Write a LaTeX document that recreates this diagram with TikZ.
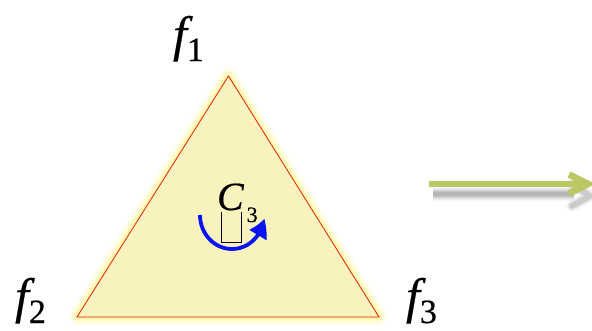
\documentclass[tikz,border=0pt]{standalone}
\usepackage{fontspec}
\setmainfont{Liberation Serif}
\newfontfamily\heavy{Liberation Serif}[FakeBold=0.4]
\usetikzlibrary{arrows.meta,bending}
\definecolor{trifill}{RGB}{248,243,190}
\definecolor{glow}{RGB}{255,242,100}
\definecolor{trired}{RGB}{220,30,30}
\definecolor{olive}{RGB}{186,199,98}
\definecolor{rotblue}{RGB}{10,20,240}
\tikzset{
  lbl/.style={anchor=base west, inner sep=0pt, outer sep=0pt, font=\heavy},
}
\newcommand{\flabel}[1]{{\fontsize{50}{50}\selectfont\itshape f}\kern0pt\smash{\raisebox{-10pt}{\fontsize{34}{34}\selectfont #1}}}
\begin{document}
\begin{tikzpicture}[x=1pt,y=-1pt]
\useasboundingbox (0,0) rectangle (592,330);
\coordinate (A) at (228.5,76);
\coordinate (B) at (77,317);
\coordinate (C) at (379,317);
% glow
\foreach \w/\o in {18/0.07,14/0.09,11/0.11,8/0.15,5/0.22,3/0.3}{
  \draw[glow, line width=\w pt, opacity=\o, line join=round] (A) -- (B) -- (C) -- cycle;
}
\fill[trifill] (A) -- (B) -- (C) -- cycle;
\draw[trired, line width=0.8pt, line join=miter] (A) -- (B) -- (C) -- cycle;
% labels
\node[lbl] (f1) at (173,51) {\flabel{1}};
\node[lbl] (f2) at (15,313) {\flabel{2}};
\node[lbl] (f3) at (406,313) {\flabel{3}};
% rotation arrow
\draw[rotblue, line width=3.8pt, -{Triangle[length=18pt,width=19pt,bend]}]
  (200,215) arc[start angle=180, end angle=6, x radius=32, y radius=34];
% missing glyph box
\draw[black, line width=0.6pt] (221,212) -- (221,242) -- (241,242) -- (241,212);
\node[lbl] (c3) at (217,210) {{\fontsize{40}{40}\selectfont\itshape C}\kern3pt\smash{\raisebox{-12pt}{\fontsize{22}{22}\selectfont 3}}};
% big arrow shadow
\foreach \d/\o in {14/0.03,12/0.04,10/0.05,8/0.06,6/0.07,4/0.08}{
  \draw[black, line width=\d pt, opacity=\o] (433,194) -- (574,194);
}
\foreach \d/\o in {12/0.03,9/0.05,7/0.06,5/0.08}{
  \draw[black, line width=\d pt, opacity=\o, line cap=round, line join=round] (572,184) -- (590,196) -- (572,206);
}
% big arrow
\coordinate (a1) at (429,184);
\coordinate (a2) at (588,184);
\draw[olive, line width=6.5pt] (a1) -- (584,184);
\draw[olive, line width=6.5pt, line join=miter] (569,174.5) -- (a2) -- (569,193.5);
\end{tikzpicture}
\end{document}
